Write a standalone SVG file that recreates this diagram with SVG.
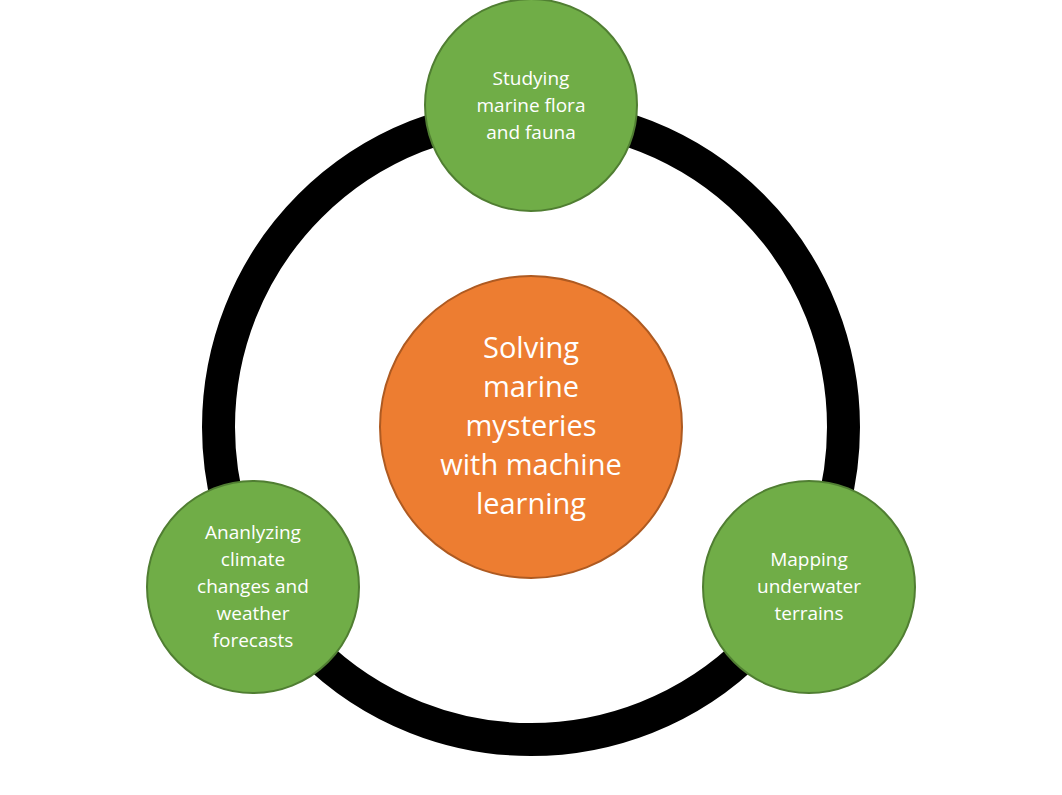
<svg xmlns="http://www.w3.org/2000/svg" width="1062" height="795" viewBox="0 0 1062 795">
<style>
.g{fill:#70AD47;stroke:#507E32;stroke-width:2}
.t{fill:#fff;font-family:"Open Sans","Liberation Sans",sans-serif;text-anchor:middle}
.s{font-size:19px}
.b{font-size:29px}
</style>
<rect width="1062" height="795" fill="#fff"/>
<g id="connectors"><circle cx="531" cy="427" r="312.5" fill="none" stroke="#000" stroke-width="33"/></g>
<g id="center"><circle cx="531" cy="427" r="151" fill="#ED7D31" stroke="#AE5A21" stroke-width="2"/>
<text class="t b"><tspan x="531" y="358">Solving</tspan><tspan x="531" y="397">marine</tspan><tspan x="531" y="436">mysteries</tspan><tspan x="531" y="475">with machine</tspan><tspan x="531" y="514">learning</tspan></text></g>
<g id="top"><circle class="g" cx="531" cy="105" r="106"/>
<text class="t s"><tspan x="531" y="85">Studying</tspan><tspan x="531" y="112">marine flora</tspan><tspan x="531" y="139">and fauna</tspan></text></g>
<g id="left"><circle class="g" cx="253" cy="587" r="106"/>
<text class="t s"><tspan x="253" y="539">Ananlyzing</tspan><tspan x="253" y="566">climate</tspan><tspan x="253" y="593">changes and</tspan><tspan x="253" y="620">weather</tspan><tspan x="253" y="647">forecasts</tspan></text></g>
<g id="right"><circle class="g" cx="809" cy="587" r="106"/>
<text class="t s"><tspan x="809" y="566">Mapping</tspan><tspan x="809" y="593">underwater</tspan><tspan x="809" y="620">terrains</tspan></text></g>
</svg>
